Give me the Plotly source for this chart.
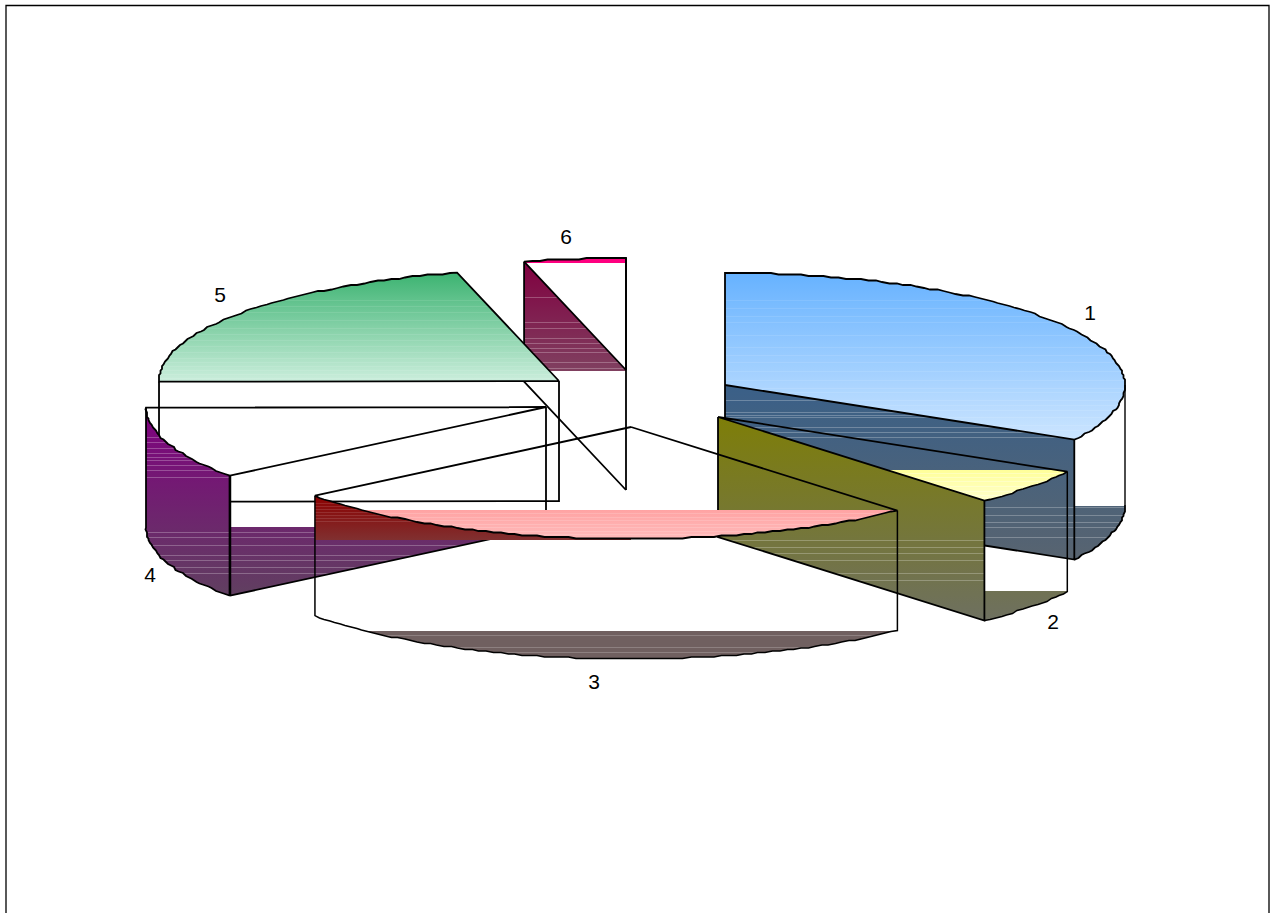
import math
import plotly.graph_objects as go

# ---- data ----
categories = ["1", "2", "3", "4", "5", "6"]
values = [33.1, 5.3, 26.1, 10.4, 21.0, 4.1]

# ---- pie layout / style ----
W, H = 1275, 913
RX, RY, DEPTH = 400, 112, 120
centers = {0: (725, 385), 1: (718, 417), 2: (631, 427), 3: (546, 407), 4: (559, 381), 5: (626, 370)}
label_pos = [(1090, 315), (1053, 624), (594, 684), (150, 577), (220, 297), (566, 239)]
JAG = 1.5
ARC_STEP = 1.1

total = sum(values)
bounds = [0.0]
for v in values:
    bounds.append(bounds[-1] + v / total * 360)


def pt(i, t, drop=0):
    cx, cy = centers[i]
    a = math.radians(t)
    return (cx + RX * math.sin(a), cy - RY * math.cos(a) + drop)


def arc(i, t0, t1, drop=0):
    n = max(2, int(abs(t1 - t0) / ARC_STEP))
    out = []
    for k in range(n + 1):
        x, y = pt(i, t0 + (t1 - t0) * k / n, drop)
        if 0 < k < n:
            x, y = round(x / JAG) * JAG, round(y / JAG) * JAG
        if not out or out[-1] != (x, y):
            out.append((x, y))
    return out


def clip(poly, ymin=-1e9, ymax=1e9):
    def side(p, keep, yb):
        res = []
        for a, b in zip(p, p[1:] + p[:1]):
            ia, ib = keep(a), keep(b)
            if ia:
                res.append(a)
            if ia != ib:
                s = (yb - a[1]) / (b[1] - a[1])
                res.append((a[0] + s * (b[0] - a[0]), yb))
        return res
    p = side(poly, lambda q: q[1] >= ymin, ymin)
    return side(p, lambda q: q[1] <= ymax, ymax) if p else p


def hex2(c):
    return tuple(int(c[k:k + 2], 16) for k in (1, 3, 5))


def mix(a, b, s):
    return tuple(a[k] + (b[k] - a[k]) * s for k in range(3))


def rgb(c):
    return "rgb(%d,%d,%d)" % tuple(round(v) for v in c)


def scale(c0, c1, y0, y1, stripes=(), amount=0.3):
    a, b = hex2(c0), hex2(c1)
    stops = [[0, rgb(a)]]
    for y in sorted(stripes):
        if not (y0 < y < y1 - 1):
            continue
        u0, u1 = (y - y0) / (y1 - y0), (y + 1 - y0) / (y1 - y0)
        base = mix(a, b, u0)
        st = rgb(mix(base, (255, 255, 255), amount))
        stops += [[u0, rgb(base)], [u0, st], [u1, st], [u1, rgb(mix(a, b, u1))]]
    stops.append([1, rgb(b)])
    return stops


fig = go.Figure()


def fill(poly, c0, c1, y0, y1, ymin=-1e9, ymax=1e9, stripes=(), amount=0.25):
    p = clip(poly, ymin, ymax)
    if not p:
        return
    p = p + p[:1]
    fig.add_trace(go.Scatter(
        x=[q[0] for q in p], y=[q[1] for q in p], mode="none", fill="toself",
        fillgradient=dict(type="vertical", colorscale=scale(c0, c1, y0, y1, stripes, amount), start=y0, stop=y1),
        hoverinfo="skip", showlegend=False))


def stroke(points, width=1.8):
    fig.add_trace(go.Scatter(
        x=[q[0] for q in points], y=[q[1] for q in points], mode="lines",
        line=dict(color="black", width=width, simplify=False),
        hoverinfo="skip", showlegend=False))


def top_poly(i):
    t0, t1 = bounds[i], bounds[i + 1]
    return [centers[i]] + arc(i, t0, t1)


def down(p):
    return (p[0], p[1] + DEPTH)


def radial_wall(i, t):
    a, b = centers[i], pt(i, t)
    return [a, b, down(b), down(a)]


def outer_wall(i, t0, t1):
    return arc(i, t0, t1) + arc(i, t1, t0, DEPTH)


def outline(i, width=1.8):
    p = top_poly(i)
    stroke(p + p[:1], width)


# slice 6
T = bounds
w6 = radial_wall(5, T[5])
fill(top_poly(5), "#FF0080", "#FF0080", 258, 263, ymin=258, ymax=263)
fill(w6, "#800040", "#804060", 262, 371, ymax=371,
     stripes=[297, 322, 328, 338, 343, 348, 352, 362, 368])
outline(5)
stroke([pt(5, T[5]), down(pt(5, T[5])), down(centers[5])])
stroke([pt(5, T[6]), centers[5], down(centers[5])])

# slice 5
fill(top_poly(4), "#3CB371", "#CCEEDD", 273, 382,
     stripes=[300, 306, 312, 320, 328, 334, 340, 346, 352, 358, 362, 366, 370, 374, 378], amount=0.1)
outline(4)
stroke([pt(4, T[4]), down(pt(4, T[4])), down(centers[4]), centers[4]])

# slice 1
fill(top_poly(0), "#66B2FF", "#CCE5FF", 273, 439,
     stripes=[300, 308, 316, 322, 335, 347, 355, 362, 371, 380, 388, 392, 400, 405, 410, 417, 425, 430], amount=0.1)
c1a, c1b = "#3A6088", "#586470"
s1 = [400, 412, 415, 417, 427, 432, 437, 507, 515, 522, 527, 537]
fill(radial_wall(0, T[1]), c1a, c1b, 385, 560, stripes=s1)
fill(outer_wall(0, 90, T[1]), c1a, c1b, 385, 560, ymin=506, stripes=s1)
outline(0)
stroke([centers[0], down(centers[0]), down(pt(0, T[1])), pt(0, T[1])])
stroke([pt(0, 90), down(pt(0, 90))], 1.4)
stroke(arc(0, 90, T[1], DEPTH))

# slice 2
fill(top_poly(1), "#FFFF99", "#FFFFCC", 470, 500, ymin=470,
     stripes=[473, 477, 481, 486, 491, 495], amount=0.3)
c2a, c2b = "#7E7E08", "#6E7060"
s2 = [540, 547, 553, 560, 573, 580]
fill(radial_wall(1, T[2]), c2a, c2b, 417, 620, stripes=s2)
fill(outer_wall(1, T[1], T[2]), c2a, c2b, 417, 620, ymin=591)
outline(1)
stroke([centers[1], down(centers[1]), down(pt(1, T[2])), pt(1, T[2])])
stroke([pt(1, T[1]), down(pt(1, T[1]))] + arc(1, T[1], T[2], DEPTH), 1.5)

# slice 4
c4a, c4b = "#800080", "#604060"
s4 = [437, 442, 448, 453, 457, 460, 465, 470, 477, 532, 537, 545, 555, 560, 567, 573]
fill(outer_wall(3, T[3], T[4]), c4a, c4b, 409, 596, stripes=s4)
fill(radial_wall(3, T[3]), c4a, c4b, 409, 596, ymin=527, stripes=s4)
outline(3)
stroke([centers[3], down(centers[3]), down(pt(3, T[3]))])
stroke([pt(3, T[3]), down(pt(3, T[3]))], 2.6)
stroke([pt(3, T[4]), down(pt(3, T[4]))] + arc(3, T[4], T[3], DEPTH))

# slice 3
fill(top_poly(2), "#FFA3A3", "#FFBCBC", 510, 540, ymin=510,
     stripes=[513, 517, 520, 524, 527, 531, 534], amount=0.15)
fill(outer_wall(2, 180, T[3]), "#8B0000", "#803030", 496, 540, ymax=540,
     stripes=[503, 506, 509, 512, 515, 518, 521], amount=0.12)
fill(outer_wall(2, T[2], T[3]), "#706060", "#706060", 631, 660, ymin=631, stripes=[635, 647, 652], amount=0.2)
outline(2)
stroke([pt(2, T[3]), down(pt(2, T[3]))] + arc(2, T[3], T[2], DEPTH) + [pt(2, T[2])], 1.5)

# labels
fig.add_trace(go.Scatter(
    x=[p[0] for p in label_pos], y=[p[1] for p in label_pos], mode="text", text=categories,
    textposition="middle center",
    textfont=dict(family="Liberation Sans, Arial, sans-serif", size=21, color="black"),
    hoverinfo="skip", showlegend=False))

fig.add_shape(type="rect", x0=6, x1=1269, y0=5.5, y1=940, line=dict(color="black", width=1.3))

fig.update_layout(
    width=W, height=H, margin=dict(l=0, r=0, t=0, b=0),
    paper_bgcolor="white", plot_bgcolor="white", showlegend=False,
    xaxis=dict(range=[0, W], visible=False),
    yaxis=dict(range=[H, 0], visible=False),
)
fig.write_html("out.html", config={"displayModeBar": False},
               post_script="document.body.style.margin='0';document.body.style.overflow='hidden';")
